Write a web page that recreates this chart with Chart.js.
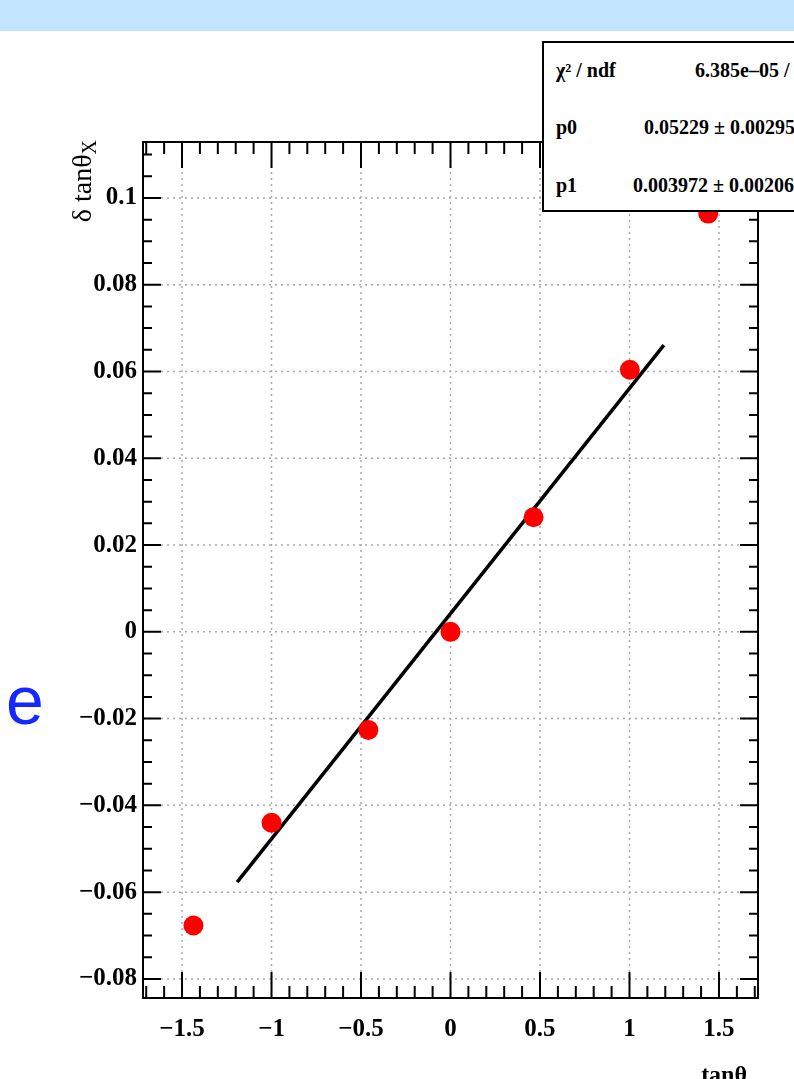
<!DOCTYPE html>
<html>
<head>
<meta charset="utf-8">
<script src="https://cdn.jsdelivr.net/npm/chart.js@4.4.0/dist/chart.umd.min.js"></script>
<style>
body{margin:0;background:#fff;overflow:hidden;}
#wrap{position:relative;width:794px;height:1079px;overflow:hidden;background:#fff;}
#band{position:absolute;left:0;top:0;width:794px;height:31px;background:#c2e5ff;}
#stats{position:absolute;left:542px;top:41px;width:320px;height:171px;border:2px solid #000;background:#fff;box-sizing:border-box;font:bold 20px 'Liberation Serif',serif;color:#000;}
#stats div{position:absolute;white-space:nowrap;line-height:24px;}
#ytitle{position:absolute;left:68px;top:262px;width:122px;text-align:right;transform:rotate(-90deg);transform-origin:0 0;font:28px 'Liberation Serif',serif;line-height:28px;white-space:nowrap;}
#ytitle sub{font-size:20px;vertical-align:-5px;}
#xtitle{position:absolute;right:47px;top:1062px;font:bold 24px 'Liberation Serif',serif;line-height:24px;white-space:nowrap;}
#eletter{position:absolute;left:6px;top:666px;font:68px 'Liberation Sans',sans-serif;line-height:68px;color:#1428ff;}
</style>
</head>
<body>
<div id="wrap">
<canvas id="c" width="794" height="1079"></canvas>
<div id="band"></div>
<div id="eletter">e</div>
<div id="ytitle">δ tanθ<sub>X</sub></div>
<div id="xtitle">tanθ</div>
<div id="stats">
  <div style="left:12px;top:15px">χ² / ndf</div>
  <div style="left:151px;top:15px">6.385e–05 / 5</div>
  <div style="left:12px;top:72px">p0</div>
  <div style="left:100px;top:72px">0.05229 ± 0.00295</div>
  <div style="left:12px;top:130px">p1</div>
  <div style="left:89px;top:130px">0.003972 ± 0.00206</div>
</div>
</div>
<script>
// measured points
var tanX=[-1.436,-1.0,-0.459,0.0,0.464,1.002,1.44];
var dTanX=[-0.0677,-0.0440,-0.0226,0.0000,0.0264,0.0604,0.0964];
// fit line ends
var fitX=[-1.192,1.192];
var fitY=[-0.0577,0.0661];
// axis labels
var xTicks=[-1.5,-1,-0.5,0,0.5,1,1.5];
var yTicks=[-0.08,-0.06,-0.04,-0.02,0,0.02,0.04,0.06,0.08,0.1];

function fmt(v){
  var s=String(Math.round(v*1000)/1000);
  return s.replace('-','\u2212');
}

function pts(xs,ys){
  var out=[];
  for(var i=0;i<xs.length;i++) out.push({x:xs[i],y:ys[i]});
  return out;
}

var rootFrame={
  id:'rootFrame',
  beforeDatasetsDraw:function(chart){
    var ctx=chart.ctx, a=chart.chartArea, xs=chart.scales.x, ys=chart.scales.y;
    ctx.save();
    ctx.strokeStyle='#aaaaaa';
    ctx.lineWidth=1.5;
    ctx.setLineDash([2,4]);
    xTicks.forEach(function(v){
      var px=xs.getPixelForValue(v);
      ctx.beginPath();ctx.moveTo(px,a.top);ctx.lineTo(px,a.bottom);ctx.stroke();
    });
    yTicks.forEach(function(v){
      var py=ys.getPixelForValue(v);
      ctx.beginPath();ctx.moveTo(a.left,py);ctx.lineTo(a.right,py);ctx.stroke();
    });
    ctx.restore();
  },
  afterDatasetsDraw:function(chart){
    var ctx=chart.ctx, a=chart.chartArea, xs=chart.scales.x, ys=chart.scales.y;
    ctx.save();
    ctx.strokeStyle='#000';
    ctx.lineWidth=2;
    ctx.beginPath();
    for(var i=-17;i<=17;i++){
      var px=xs.getPixelForValue(i/10);
      var len=(i%5===0)?26:12;
      ctx.moveTo(px,a.bottom);ctx.lineTo(px,a.bottom-len);
      ctx.moveTo(px,a.top);ctx.lineTo(px,a.top+len);
    }
    for(var j=-16;j<=22;j++){
      var py=ys.getPixelForValue(j*0.005);
      var l2=(j%4===0)?18:9;
      ctx.moveTo(a.left,py);ctx.lineTo(a.left+l2,py);
      ctx.moveTo(a.right,py);ctx.lineTo(a.right-l2,py);
    }
    ctx.stroke();
    ctx.strokeRect(a.left,a.top,a.right-a.left,a.bottom-a.top);
    ctx.restore();
  }
};

var tickFont={family:"'Liberation Serif', serif",size:25,weight:'bold'};

new Chart(document.getElementById('c'),{
  type:'scatter',
  data:{
    datasets:[
      {
        label:'data',
        data:pts(tanX,dTanX),
        backgroundColor:'#ff0000',
        borderColor:'#ff0000',
        pointRadius:10,
        pointHoverRadius:10,
        borderWidth:0,
        order:1
      },
      {
        label:'fit',
        type:'line',
        data:pts(fitX,fitY),
        borderColor:'#000',
        borderWidth:3.5,
        pointRadius:0,
        fill:false,
        order:2
      }
    ]
  },
  options:{
    responsive:false,
    devicePixelRatio:1,
    animation:false,
    layout:{padding:{top:142,right:36,left:0,bottom:0}},
    plugins:{legend:{display:false},tooltip:{enabled:false}},
    scales:{
      x:{
        type:'linear',
        min:-1.718,max:1.718,
        grid:{display:false,drawTicks:false},
        border:{display:false},
        afterBuildTicks:function(s){s.ticks=xTicks.map(function(v){return {value:v};});},
        afterFit:function(s){s.height=81;},
        ticks:{autoSkip:false,maxRotation:0,padding:17,color:'#000',font:tickFont,callback:function(v){return fmt(v);}}
      },
      y:{
        type:'linear',
        min:-0.0844,max:0.1129,
        grid:{display:false,drawTicks:false},
        border:{display:false},
        afterBuildTicks:function(s){s.ticks=yTicks.map(function(v){return {value:v};});},
        afterFit:function(s){s.width=143;},
        ticks:{autoSkip:false,padding:6,color:'#000',font:tickFont,callback:function(v){return fmt(v);}}
      }
    }
  },
  plugins:[rootFrame]
});
</script>
</body>
</html>
